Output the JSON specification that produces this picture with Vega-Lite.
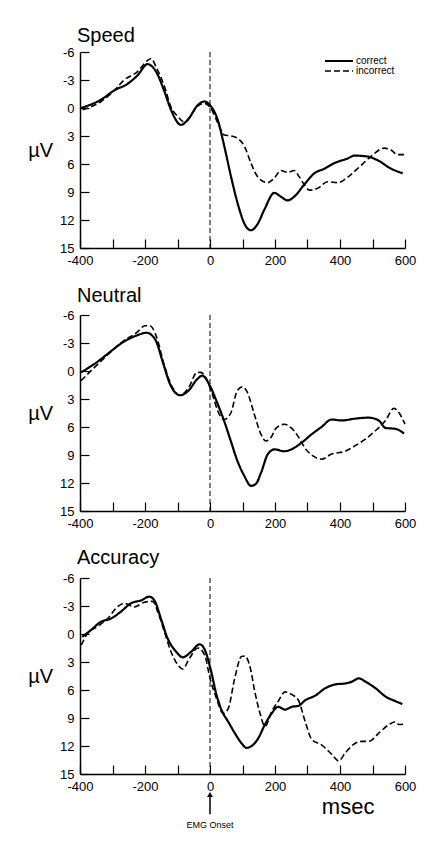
{
  "$schema": "https://vega.github.io/schema/vega-lite/v6.json",
  "background": "white",
  "padding": {"left": 27, "top": 26, "right": 5, "bottom": 5},
  "config": {
    "font": "Liberation Sans",
    "view": {"stroke": null},
    "axis": {"grid": false, "domainColor": "black", "domainWidth": 1.5, "tickColor": "black", "tickWidth": 1.2, "labelColor": "black", "labelFontSize": 13, "labelFont": "Liberation Sans", "titleColor": "black", "titleFont": "Liberation Sans", "labelOverlap": false, "tickSize": -9},
    "axisX": {"labelPadding": 15, "labelFlush": false},
    "axisY": {"labelPadding": 15, "titleAngle": 0, "titleFontSize": 20, "titleFontWeight": "normal", "titleAlign": "right", "titleBaseline": "middle", "titlePadding": 7},
    "title": {"fontSize": 20, "fontWeight": "normal", "anchor": "start", "frame": "group", "color": "black", "font": "Liberation Sans", "baseline": "alphabetic"},
    "legend": {"labelFont": "Liberation Sans", "labelColor": "black"}
  },
  "datasets": {
    "speed": [
      {"cond": "correct", "t": -397, "v": 0.0}, {"cond": "correct", "t": -335, "v": -0.9}, {"cond": "correct", "t": -294, "v": -1.9}, {"cond": "correct", "t": -253, "v": -2.6}, {"cond": "correct", "t": -223, "v": -3.5}, {"cond": "correct", "t": -192, "v": -4.7}, {"cond": "correct", "t": -166, "v": -3.9}, {"cond": "correct", "t": -140, "v": -1.75}, {"cond": "correct", "t": -120, "v": 0.2}, {"cond": "correct", "t": -89, "v": 1.8}, {"cond": "correct", "t": -69, "v": 1.3}, {"cond": "correct", "t": -38, "v": -0.3}, {"cond": "correct", "t": -17, "v": -0.7}, {"cond": "correct", "t": 0, "v": -0.3}, {"cond": "correct", "t": 24, "v": 1.3}, {"cond": "correct", "t": 44, "v": 4.1}, {"cond": "correct", "t": 65, "v": 7.4}, {"cond": "correct", "t": 85, "v": 10.2}, {"cond": "correct", "t": 106, "v": 12.4}, {"cond": "correct", "t": 126, "v": 13.1}, {"cond": "correct", "t": 147, "v": 12.4}, {"cond": "correct", "t": 167, "v": 10.9}, {"cond": "correct", "t": 198, "v": 9.1}, {"cond": "correct", "t": 218, "v": 9.5}, {"cond": "correct", "t": 239, "v": 9.9}, {"cond": "correct", "t": 259, "v": 9.5}, {"cond": "correct", "t": 290, "v": 8.2}, {"cond": "correct", "t": 321, "v": 7.0}, {"cond": "correct", "t": 352, "v": 6.5}, {"cond": "correct", "t": 383, "v": 5.9}, {"cond": "correct", "t": 424, "v": 5.4}, {"cond": "correct", "t": 444, "v": 5.1}, {"cond": "correct", "t": 485, "v": 5.2}, {"cond": "correct", "t": 516, "v": 5.6}, {"cond": "correct", "t": 557, "v": 6.5}, {"cond": "correct", "t": 593, "v": 7.0},
      {"cond": "incorrect", "t": -392, "v": 0.2}, {"cond": "incorrect", "t": -335, "v": -0.7}, {"cond": "incorrect", "t": -294, "v": -1.9}, {"cond": "incorrect", "t": -264, "v": -3.0}, {"cond": "incorrect", "t": -223, "v": -3.9}, {"cond": "incorrect", "t": -192, "v": -5.1}, {"cond": "incorrect", "t": -181, "v": -5.3}, {"cond": "incorrect", "t": -166, "v": -4.4}, {"cond": "incorrect", "t": -140, "v": -2.3}, {"cond": "incorrect", "t": -120, "v": -0.1}, {"cond": "incorrect", "t": -99, "v": 0.9}, {"cond": "incorrect", "t": -79, "v": 1.5}, {"cond": "incorrect", "t": -58, "v": 0.75}, {"cond": "incorrect", "t": -38, "v": -0.2}, {"cond": "incorrect", "t": -17, "v": -0.5}, {"cond": "incorrect", "t": 0, "v": -0.1}, {"cond": "incorrect", "t": 24, "v": 1.6}, {"cond": "incorrect", "t": 44, "v": 2.9}, {"cond": "incorrect", "t": 65, "v": 3.0}, {"cond": "incorrect", "t": 85, "v": 3.25}, {"cond": "incorrect", "t": 106, "v": 4.1}, {"cond": "incorrect", "t": 126, "v": 5.9}, {"cond": "incorrect", "t": 147, "v": 7.4}, {"cond": "incorrect", "t": 177, "v": 8.0}, {"cond": "incorrect", "t": 198, "v": 7.5}, {"cond": "incorrect", "t": 218, "v": 6.7}, {"cond": "incorrect", "t": 239, "v": 6.9}, {"cond": "incorrect", "t": 259, "v": 6.7}, {"cond": "incorrect", "t": 275, "v": 7.4}, {"cond": "incorrect", "t": 290, "v": 8.2}, {"cond": "incorrect", "t": 306, "v": 8.8}, {"cond": "incorrect", "t": 331, "v": 8.6}, {"cond": "incorrect", "t": 362, "v": 7.9}, {"cond": "incorrect", "t": 393, "v": 8.0}, {"cond": "incorrect", "t": 424, "v": 7.4}, {"cond": "incorrect", "t": 454, "v": 6.5}, {"cond": "incorrect", "t": 495, "v": 5.2}, {"cond": "incorrect", "t": 536, "v": 4.3}, {"cond": "incorrect", "t": 557, "v": 4.5}, {"cond": "incorrect", "t": 577, "v": 5.0}, {"cond": "incorrect", "t": 598, "v": 5.0}
    ],
    "neutral": [
      {"cond": "correct", "t": -397, "v": 0.15}, {"cond": "correct", "t": -350, "v": -0.9}, {"cond": "correct", "t": -309, "v": -2.0}, {"cond": "correct", "t": -267, "v": -3.1}, {"cond": "correct", "t": -226, "v": -3.8}, {"cond": "correct", "t": -195, "v": -4.1}, {"cond": "correct", "t": -169, "v": -3.4}, {"cond": "correct", "t": -143, "v": -0.7}, {"cond": "correct", "t": -123, "v": 1.4}, {"cond": "correct", "t": -92, "v": 2.6}, {"cond": "correct", "t": -66, "v": 2.1}, {"cond": "correct", "t": -40, "v": 0.9}, {"cond": "correct", "t": -24, "v": 0.5}, {"cond": "correct", "t": 0, "v": 1.6}, {"cond": "correct", "t": 22, "v": 3.4}, {"cond": "correct", "t": 43, "v": 5.3}, {"cond": "correct", "t": 64, "v": 7.5}, {"cond": "correct", "t": 84, "v": 9.6}, {"cond": "correct", "t": 105, "v": 11.2}, {"cond": "correct", "t": 126, "v": 12.3}, {"cond": "correct", "t": 141, "v": 12.1}, {"cond": "correct", "t": 157, "v": 10.9}, {"cond": "correct", "t": 178, "v": 8.9}, {"cond": "correct", "t": 198, "v": 8.4}, {"cond": "correct", "t": 229, "v": 8.6}, {"cond": "correct", "t": 250, "v": 8.4}, {"cond": "correct", "t": 281, "v": 7.7}, {"cond": "correct", "t": 312, "v": 6.8}, {"cond": "correct", "t": 343, "v": 6.0}, {"cond": "correct", "t": 374, "v": 5.2}, {"cond": "correct", "t": 405, "v": 5.3}, {"cond": "correct", "t": 447, "v": 5.1}, {"cond": "correct", "t": 488, "v": 5.0}, {"cond": "correct", "t": 519, "v": 5.3}, {"cond": "correct", "t": 540, "v": 6.1}, {"cond": "correct", "t": 571, "v": 6.2}, {"cond": "correct", "t": 597, "v": 6.7},
      {"cond": "incorrect", "t": -397, "v": 1.05}, {"cond": "incorrect", "t": -361, "v": -0.2}, {"cond": "incorrect", "t": -319, "v": -1.6}, {"cond": "incorrect", "t": -267, "v": -3.2}, {"cond": "incorrect", "t": -226, "v": -4.1}, {"cond": "incorrect", "t": -200, "v": -4.85}, {"cond": "incorrect", "t": -185, "v": -4.85}, {"cond": "incorrect", "t": -164, "v": -3.6}, {"cond": "incorrect", "t": -143, "v": -0.9}, {"cond": "incorrect", "t": -123, "v": 1.2}, {"cond": "incorrect", "t": -92, "v": 2.6}, {"cond": "incorrect", "t": -66, "v": 1.8}, {"cond": "incorrect", "t": -40, "v": 0.15}, {"cond": "incorrect", "t": -29, "v": 0.15}, {"cond": "incorrect", "t": -13, "v": 0.7}, {"cond": "incorrect", "t": 7, "v": 2.5}, {"cond": "incorrect", "t": 28, "v": 4.6}, {"cond": "incorrect", "t": 43, "v": 5.2}, {"cond": "incorrect", "t": 64, "v": 4.5}, {"cond": "incorrect", "t": 84, "v": 2.1}, {"cond": "incorrect", "t": 100, "v": 1.7}, {"cond": "incorrect", "t": 115, "v": 2.3}, {"cond": "incorrect", "t": 136, "v": 4.6}, {"cond": "incorrect", "t": 157, "v": 6.8}, {"cond": "incorrect", "t": 172, "v": 7.5}, {"cond": "incorrect", "t": 188, "v": 7.1}, {"cond": "incorrect", "t": 204, "v": 6.1}, {"cond": "incorrect", "t": 229, "v": 5.7}, {"cond": "incorrect", "t": 250, "v": 6.1}, {"cond": "incorrect", "t": 271, "v": 7.0}, {"cond": "incorrect", "t": 291, "v": 8.2}, {"cond": "incorrect", "t": 317, "v": 9.1}, {"cond": "incorrect", "t": 343, "v": 9.45}, {"cond": "incorrect", "t": 374, "v": 8.9}, {"cond": "incorrect", "t": 416, "v": 8.6}, {"cond": "incorrect", "t": 447, "v": 8.0}, {"cond": "incorrect", "t": 478, "v": 7.3}, {"cond": "incorrect", "t": 509, "v": 6.4}, {"cond": "incorrect", "t": 540, "v": 5.3}, {"cond": "incorrect", "t": 566, "v": 4.0}, {"cond": "incorrect", "t": 581, "v": 4.45}, {"cond": "incorrect", "t": 600, "v": 5.7}
    ],
    "accuracy": [
      {"cond": "correct", "t": -393, "v": 0.3}, {"cond": "correct", "t": -367, "v": -0.4}, {"cond": "correct", "t": -336, "v": -1.3}, {"cond": "correct", "t": -305, "v": -1.65}, {"cond": "correct", "t": -274, "v": -2.4}, {"cond": "correct", "t": -243, "v": -3.3}, {"cond": "correct", "t": -212, "v": -3.6}, {"cond": "correct", "t": -187, "v": -4.0}, {"cond": "correct", "t": -171, "v": -3.6}, {"cond": "correct", "t": -151, "v": -1.65}, {"cond": "correct", "t": -130, "v": 0.5}, {"cond": "correct", "t": -104, "v": 1.9}, {"cond": "correct", "t": -84, "v": 2.5}, {"cond": "correct", "t": -58, "v": 1.9}, {"cond": "correct", "t": -32, "v": 1.1}, {"cond": "correct", "t": -16, "v": 1.7}, {"cond": "correct", "t": 0, "v": 3.5}, {"cond": "correct", "t": 20, "v": 6.5}, {"cond": "correct", "t": 35, "v": 8.1}, {"cond": "correct", "t": 56, "v": 9.4}, {"cond": "correct", "t": 76, "v": 10.6}, {"cond": "correct", "t": 97, "v": 11.7}, {"cond": "correct", "t": 112, "v": 12.2}, {"cond": "correct", "t": 128, "v": 12.0}, {"cond": "correct", "t": 148, "v": 11.2}, {"cond": "correct", "t": 169, "v": 9.7}, {"cond": "correct", "t": 190, "v": 8.5}, {"cond": "correct", "t": 210, "v": 7.8}, {"cond": "correct", "t": 231, "v": 8.1}, {"cond": "correct", "t": 252, "v": 7.8}, {"cond": "correct", "t": 272, "v": 7.7}, {"cond": "correct", "t": 293, "v": 7.1}, {"cond": "correct", "t": 324, "v": 6.6}, {"cond": "correct", "t": 355, "v": 5.8}, {"cond": "correct", "t": 386, "v": 5.4}, {"cond": "correct", "t": 416, "v": 5.3}, {"cond": "correct", "t": 437, "v": 5.1}, {"cond": "correct", "t": 458, "v": 4.75}, {"cond": "correct", "t": 478, "v": 5.1}, {"cond": "correct", "t": 509, "v": 5.8}, {"cond": "correct", "t": 540, "v": 6.7}, {"cond": "correct", "t": 571, "v": 7.2}, {"cond": "correct", "t": 592, "v": 7.5},
      {"cond": "incorrect", "t": -396, "v": 1.2}, {"cond": "incorrect", "t": -377, "v": -0.05}, {"cond": "incorrect", "t": -346, "v": -0.8}, {"cond": "incorrect", "t": -315, "v": -1.65}, {"cond": "incorrect", "t": -285, "v": -2.9}, {"cond": "incorrect", "t": -264, "v": -3.3}, {"cond": "incorrect", "t": -233, "v": -2.9}, {"cond": "incorrect", "t": -202, "v": -3.4}, {"cond": "incorrect", "t": -176, "v": -3.5}, {"cond": "incorrect", "t": -161, "v": -2.4}, {"cond": "incorrect", "t": -140, "v": -0.2}, {"cond": "incorrect", "t": -120, "v": 1.9}, {"cond": "incorrect", "t": -99, "v": 3.3}, {"cond": "incorrect", "t": -84, "v": 3.75}, {"cond": "incorrect", "t": -63, "v": 2.6}, {"cond": "incorrect", "t": -37, "v": 1.5}, {"cond": "incorrect", "t": -16, "v": 2.3}, {"cond": "incorrect", "t": 0, "v": 4.75}, {"cond": "incorrect", "t": 20, "v": 6.9}, {"cond": "incorrect", "t": 40, "v": 8.5}, {"cond": "incorrect", "t": 56, "v": 8.0}, {"cond": "incorrect", "t": 76, "v": 4.75}, {"cond": "incorrect", "t": 97, "v": 2.4}, {"cond": "incorrect", "t": 107, "v": 2.35}, {"cond": "incorrect", "t": 123, "v": 3.5}, {"cond": "incorrect", "t": 138, "v": 6.2}, {"cond": "incorrect", "t": 154, "v": 8.5}, {"cond": "incorrect", "t": 169, "v": 9.9}, {"cond": "incorrect", "t": 190, "v": 8.3}, {"cond": "incorrect", "t": 210, "v": 7.2}, {"cond": "incorrect", "t": 231, "v": 6.2}, {"cond": "incorrect", "t": 252, "v": 6.5}, {"cond": "incorrect", "t": 272, "v": 7.1}, {"cond": "incorrect", "t": 293, "v": 9.4}, {"cond": "incorrect", "t": 313, "v": 11.3}, {"cond": "incorrect", "t": 344, "v": 11.9}, {"cond": "incorrect", "t": 375, "v": 12.9}, {"cond": "incorrect", "t": 396, "v": 13.6}, {"cond": "incorrect", "t": 416, "v": 12.75}, {"cond": "incorrect", "t": 447, "v": 11.7}, {"cond": "incorrect", "t": 468, "v": 11.5}, {"cond": "incorrect", "t": 489, "v": 11.5}, {"cond": "incorrect", "t": 520, "v": 10.6}, {"cond": "incorrect", "t": 551, "v": 9.7}, {"cond": "incorrect", "t": 571, "v": 9.4}, {"cond": "incorrect", "t": 581, "v": 9.7}, {"cond": "incorrect", "t": 600, "v": 9.65}
    ],
    "onset": [{"t": 0}],
    "arrow": [{"t": 0, "y1": 17.2, "y2": 19.3}],
    "labels": [{"t": 0, "v": 20.5, "txt": "EMG Onset"}],
    "unit": [{"t": 425, "v": 18.5, "txt": "msec"}]
  },
  "resolve": {"scale": {"strokeDash": "independent", "strokeWidth": "independent"}, "legend": {"strokeDash": "independent", "strokeWidth": "independent"}},
  "bounds": "flush",
  "spacing": 67,
  "vconcat": [
    {
      "title": {"text": "Speed", "offset": 0, "dx": -3},
      "width": 325, "height": 196,
      "layer": [
        {"data": {"name": "onset"}, "mark": {"type": "rule", "strokeDash": [5, 3], "strokeWidth": 1, "color": "black"}, "encoding": {"x": {"field": "t", "type": "quantitative", "axis": {"title": null, "values": [-400, -300, -200, -100, 0, 100, 200, 300, 400, 500, 600], "labelExpr": "datum.value % 200 === 0 ? toString(datum.value) : ''"}}}},
        {"data": {"name": "speed"}, "mark": {"type": "line", "interpolate": "monotone", "color": "black"},
          "encoding": {
            "x": {"field": "t", "type": "quantitative", "scale": {"domain": [-400, 600], "nice": false}, "axis": {"title": null, "values": [-400, -300, -200, -100, 0, 100, 200, 300, 400, 500, 600], "labelExpr": "datum.value % 200 === 0 ? toString(datum.value) : ''"}},
            "y": {"field": "v", "type": "quantitative", "scale": {"domain": [-6, 15], "reverse": true, "nice": false, "zero": false}, "axis": {"title": "µV", "values": [-6, -3, 0, 3, 6, 9, 12, 15], "labelExpr": "toString(datum.value)"}},
            "strokeDash": {"field": "cond", "type": "nominal", "scale": {"domain": ["correct", "incorrect"], "range": [[1, 0], [6, 3]]}, "legend": {"title": null, "orient": "none", "legendX": 254, "legendY": 4, "symbolType": "M-4,0H4", "symbolSize": 49, "symbolStrokeColor": "black", "labelFontSize": 10, "labelOffset": 12, "rowPadding": 0, "padding": 0}},
            "strokeWidth": {"field": "cond", "type": "nominal", "scale": {"domain": ["correct", "incorrect"], "range": [2.2, 1.6]}, "legend": {"title": null, "orient": "none", "legendX": 254, "legendY": 4, "symbolType": "M-4,0H4", "symbolSize": 49, "symbolStrokeColor": "black", "labelFontSize": 10, "labelOffset": 12, "rowPadding": 0, "padding": 0}}
          }
        }
      ]
    },
    {
      "title": {"text": "Neutral", "offset": 3, "dx": -3},
      "width": 325, "height": 196,
      "layer": [
        {"data": {"name": "onset"}, "mark": {"type": "rule", "strokeDash": [5, 3], "strokeWidth": 1, "color": "black"}, "encoding": {"x": {"field": "t", "type": "quantitative", "axis": {"title": null, "values": [-400, -300, -200, -100, 0, 100, 200, 300, 400, 500, 600], "labelExpr": "datum.value % 200 === 0 ? toString(datum.value) : ''"}}}},
        {"data": {"name": "neutral"}, "mark": {"type": "line", "interpolate": "monotone", "color": "black"},
          "encoding": {
            "x": {"field": "t", "type": "quantitative", "scale": {"domain": [-400, 600], "nice": false}, "axis": {"title": null, "values": [-400, -300, -200, -100, 0, 100, 200, 300, 400, 500, 600], "labelExpr": "datum.value % 200 === 0 ? toString(datum.value) : ''"}},
            "y": {"field": "v", "type": "quantitative", "scale": {"domain": [-6, 15], "reverse": true, "nice": false, "zero": false}, "axis": {"title": "µV", "values": [-6, -3, 0, 3, 6, 9, 12, 15], "labelExpr": "toString(datum.value)"}},
            "strokeDash": {"field": "cond", "type": "nominal", "scale": {"domain": ["correct", "incorrect"], "range": [[1, 0], [6, 3]]}, "legend": null},
            "strokeWidth": {"field": "cond", "type": "nominal", "scale": {"domain": ["correct", "incorrect"], "range": [2.2, 1.6]}, "legend": null}
          }
        }
      ]
    },
    {
      "title": {"text": "Accuracy", "offset": 4, "dx": -3},
      "width": 325, "height": 196,
      "layer": [
        {"data": {"name": "onset"}, "mark": {"type": "rule", "strokeDash": [5, 3], "strokeWidth": 1, "color": "black"}, "encoding": {"x": {"field": "t", "type": "quantitative", "axis": {"title": null, "values": [-400, -300, -200, -100, 0, 100, 200, 300, 400, 500, 600], "labelExpr": "datum.value % 200 === 0 ? toString(datum.value) : ''"}}}},
        {"data": {"name": "accuracy"}, "mark": {"type": "line", "interpolate": "monotone", "color": "black"},
          "encoding": {
            "x": {"field": "t", "type": "quantitative", "scale": {"domain": [-400, 600], "nice": false}, "axis": {"title": null, "values": [-400, -300, -200, -100, 0, 100, 200, 300, 400, 500, 600], "labelExpr": "datum.value % 200 === 0 ? toString(datum.value) : ''"}},
            "y": {"field": "v", "type": "quantitative", "scale": {"domain": [-6, 15], "reverse": true, "nice": false, "zero": false}, "axis": {"title": "µV", "values": [-6, -3, 0, 3, 6, 9, 12, 15], "labelExpr": "toString(datum.value)"}},
            "strokeDash": {"field": "cond", "type": "nominal", "scale": {"domain": ["correct", "incorrect"], "range": [[1, 0], [6, 3]]}, "legend": null},
            "strokeWidth": {"field": "cond", "type": "nominal", "scale": {"domain": ["correct", "incorrect"], "range": [2.2, 1.6]}, "legend": null}
          }
        },
        {"data": {"name": "arrow"}, "mark": {"type": "rule", "color": "black", "strokeWidth": 1.5}, "encoding": {"x": {"field": "t", "type": "quantitative", "axis": {"title": null, "values": [-400, -300, -200, -100, 0, 100, 200, 300, 400, 500, 600], "labelExpr": "datum.value % 200 === 0 ? toString(datum.value) : ''"}}, "y": {"field": "y1", "type": "quantitative", "axis": {"title": "µV", "values": [-6, -3, 0, 3, 6, 9, 12, 15], "labelExpr": "toString(datum.value)"}}, "y2": {"field": "y2"}}},
        {"data": {"name": "arrow"}, "mark": {"type": "point", "shape": "triangle-up", "filled": true, "color": "black", "size": 35, "opacity": 1}, "encoding": {"x": {"field": "t", "type": "quantitative", "axis": {"title": null, "values": [-400, -300, -200, -100, 0, 100, 200, 300, 400, 500, 600], "labelExpr": "datum.value % 200 === 0 ? toString(datum.value) : ''"}}, "y": {"field": "y1", "type": "quantitative", "axis": {"title": "µV", "values": [-6, -3, 0, 3, 6, 9, 12, 15], "labelExpr": "toString(datum.value)"}}}},
        {"data": {"name": "labels"}, "mark": {"type": "text", "fontSize": 9, "color": "black", "font": "Liberation Sans"}, "encoding": {"x": {"field": "t", "type": "quantitative", "axis": {"title": null, "values": [-400, -300, -200, -100, 0, 100, 200, 300, 400, 500, 600], "labelExpr": "datum.value % 200 === 0 ? toString(datum.value) : ''"}}, "y": {"field": "v", "type": "quantitative", "axis": {"title": "µV", "values": [-6, -3, 0, 3, 6, 9, 12, 15], "labelExpr": "toString(datum.value)"}}, "text": {"field": "txt"}}},
        {"data": {"name": "unit"}, "mark": {"type": "text", "fontSize": 22, "color": "black", "font": "Liberation Sans"}, "encoding": {"x": {"field": "t", "type": "quantitative", "axis": {"title": null, "values": [-400, -300, -200, -100, 0, 100, 200, 300, 400, 500, 600], "labelExpr": "datum.value % 200 === 0 ? toString(datum.value) : ''"}}, "y": {"field": "v", "type": "quantitative", "axis": {"title": "µV", "values": [-6, -3, 0, 3, 6, 9, 12, 15], "labelExpr": "toString(datum.value)"}}, "text": {"field": "txt"}}}
      ]
    }
  ]
}
